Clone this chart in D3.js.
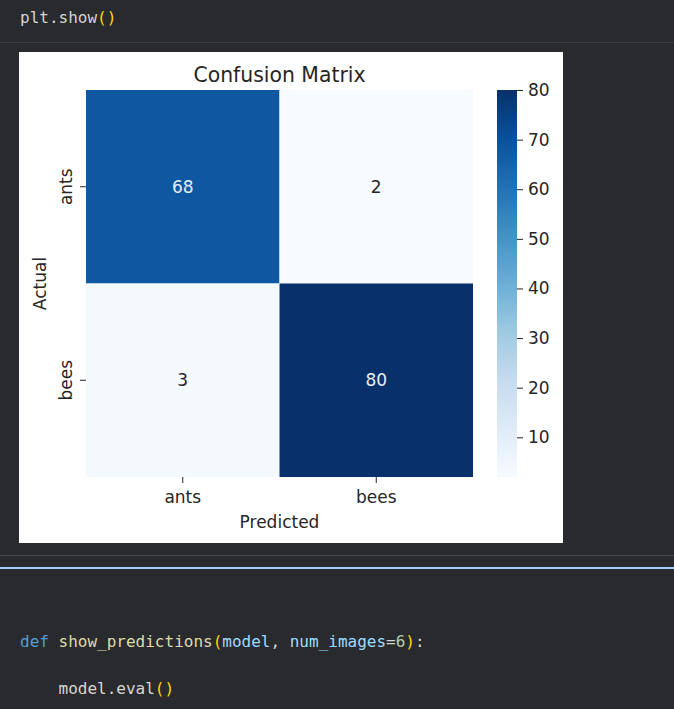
<!DOCTYPE html>
<html><head><meta charset="utf-8">
<script src="https://cdn.jsdelivr.net/npm/d3@7/dist/d3.min.js"></script>
<style>html,body{margin:0;padding:0;background:#292a2d;overflow:hidden}</style>
</head><body>
<script>
const actualLabels = ["ants", "bees"];
const predictedLabels = ["ants", "bees"];
const matrixValues = [[68, 2], [3, 80]];
const colorbarTicks = [10, 20, 30, 40, 50, 60, 70, 80];
const blues = ["#f7fbff","#deebf7","#c6dbef","#9ecae1","#6baed6","#4292c6","#2171b5","#08519c","#08306b"];

const W = 674, H = 709;
const svg = d3.select("body").append("svg").attr("width", W).attr("height", H);
svg.append("rect").attr("width", W).attr("height", H).attr("fill", "#292a2d");

// notebook chrome
const mono = "'DejaVu Sans Mono', 'Liberation Mono', monospace";
function codeLine(x, y, parts) {
  const t = svg.append("text").attr("x", x).attr("y", y)
    .attr("font-family", mono).attr("font-size", 16).attr("xml:space", "preserve");
  parts.forEach(([s, c]) => t.append("tspan").attr("fill", c).text(s));
}
codeLine(20, 23, [["plt.show", "#d4d4d4"], ["()", "#ffd700"]]);
svg.append("line").attr("x1", 0).attr("x2", W).attr("y1", 42.5).attr("y2", 42.5).attr("stroke", "#3c3d40");
svg.append("rect").attr("x", 19).attr("y", 52).attr("width", 544).attr("height", 491).attr("fill", "#ffffff");
svg.append("line").attr("x1", 0).attr("x2", W).attr("y1", 555.5).attr("y2", 555.5).attr("stroke", "#46474a");
svg.append("rect").attr("x", 0).attr("y", 567).attr("width", W).attr("height", 2).attr("fill", "#a8c7fa");
codeLine(20, 647, [["def ", "#569cd6"], ["show_predictions", "#dcdcaa"], ["(", "#ffd700"], ["model", "#9cdcfe"],
  [", ", "#d4d4d4"], ["num_images", "#9cdcfe"], ["=", "#d4d4d4"], ["6", "#b5cea8"], [")", "#ffd700"], [":", "#d4d4d4"]]);
codeLine(20, 694, [["    model.eval", "#d8d8cc"], ["()", "#ffd700"]]);

// heatmap
const pLeft = 86, pRight = 473, pTop = 90, pBottom = 477;
const fs = 17, titleFs = 20.4;
const x = d3.scaleBand().domain(predictedLabels).range([pLeft, pRight]);
const y = d3.scaleBand().domain(actualLabels).range([pTop, pBottom]);
const all = matrixValues.flat();
const vmin = d3.min(all), vmax = d3.max(all);
const color = d3.scaleLinear()
  .domain(blues.map((_, i) => vmin + (vmax - vmin) * i / (blues.length - 1)))
  .range(blues).interpolate(d3.interpolateRgb);

const cells = [];
actualLabels.forEach((a, i) => predictedLabels.forEach((p, j) => cells.push({a, p, v: matrixValues[i][j]})));

const g = svg.append("g");
g.selectAll("rect.cell").data(cells).join("rect").attr("class", "cell")
  .attr("x", d => x(d.p)).attr("y", d => y(d.a))
  .attr("width", x.bandwidth()).attr("height", y.bandwidth())
  .attr("fill", d => color(d.v));
g.selectAll("text.ann").data(cells).join("text").attr("class", "ann")
  .attr("x", d => x(d.p) + x.bandwidth() / 2).attr("y", d => y(d.a) + y.bandwidth() / 2)
  .attr("text-anchor", "middle").attr("dominant-baseline", "central")
  .attr("font-family", "DejaVu Sans").attr("font-size", fs)
  .attr("fill", d => (d.v - vmin) / (vmax - vmin) > 0.5 ? "#e8eef6" : "#262626")
  .text(d => d.v);

const font = "DejaVu Sans";
const xAxis = svg.append("g").attr("transform", `translate(0,${pBottom})`)
  .call(d3.axisBottom(x).tickSize(6).tickPadding(8));
const yAxis = svg.append("g").attr("transform", `translate(${pLeft},0)`)
  .call(d3.axisLeft(y).tickSize(6).tickPadding(6));
[xAxis, yAxis].forEach(ax => {
  ax.select(".domain").remove();
  ax.selectAll("line").attr("stroke", "#262626").attr("stroke-width", 1);
  ax.selectAll("text").attr("font-family", font).attr("font-size", fs).attr("fill", "#262626");
});
xAxis.selectAll("text").attr("dy", "0.71em");
yAxis.selectAll("text")
  .attr("transform", "translate(-14,0) rotate(-90)")
  .attr("x", 0).attr("y", 0).attr("dy", "0").attr("text-anchor", "middle");

svg.append("text").attr("x", (pLeft + pRight) / 2).attr("y", 81.5)
  .attr("text-anchor", "middle").attr("font-family", font).attr("font-size", titleFs).attr("fill", "#262626")
  .text("Confusion Matrix");
svg.append("text").attr("x", (pLeft + pRight) / 2).attr("y", 528)
  .attr("text-anchor", "middle").attr("font-family", font).attr("font-size", fs).attr("fill", "#262626")
  .text("Predicted");
svg.append("text").attr("transform", `translate(46,${(pTop + pBottom) / 2}) rotate(-90)`)
  .attr("text-anchor", "middle").attr("font-family", font).attr("font-size", fs).attr("fill", "#262626")
  .text("Actual");

// colorbar
const cbX = 497, cbW = 20;
const defs = svg.append("defs");
const grad = defs.append("linearGradient").attr("id", "cbgrad")
  .attr("x1", 0).attr("y1", 1).attr("x2", 0).attr("y2", 0);
blues.forEach((c, i) => grad.append("stop").attr("offset", i / (blues.length - 1)).attr("stop-color", c));
svg.append("rect").attr("x", cbX).attr("y", pTop).attr("width", cbW).attr("height", pBottom - pTop)
  .attr("fill", "url(#cbgrad)");
const cbScale = d3.scaleLinear().domain([vmin, vmax]).range([pBottom, pTop]);
const cbAxis = svg.append("g").attr("transform", `translate(${cbX + cbW},0)`)
  .call(d3.axisRight(cbScale).tickValues(colorbarTicks).tickSize(6).tickPadding(5));
cbAxis.select(".domain").remove();
cbAxis.selectAll("line").attr("stroke", "#262626");
cbAxis.selectAll("text").attr("font-family", font).attr("font-size", fs).attr("fill", "#262626");
</script>
</body></html>
